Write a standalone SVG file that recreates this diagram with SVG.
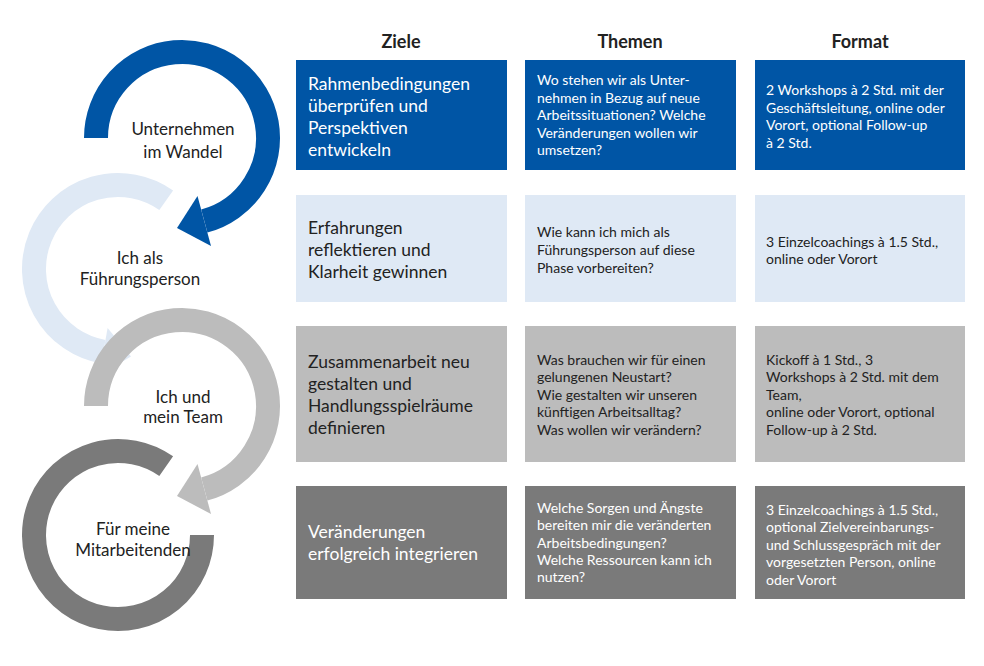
<svg xmlns="http://www.w3.org/2000/svg" width="984" height="666" viewBox="0 0 984 666">
<style>
text{font-family:Lato,"Open Sans","Liberation Sans",sans-serif;fill:#222}
.h{font-size:18px;font-weight:bold;text-anchor:middle}
.l{font-size:17px;text-anchor:middle}
.g{font-size:17.5px}
.s{font-size:14px}
.w{fill:#fff}
.arc{fill:none;stroke-width:24}
</style>
<rect width="984" height="666" fill="#fff"/>
<g id="connectors">
<path class="arc" stroke="#0055a5" d="M96,138 A86,86 0 1 1 204.3,221"/>
<polygon fill="#0055a5" points="197.5,196 211,246 177,228"/>
<path class="arc" stroke="#dfe9f5" d="M166.2,200.2 A84,84 0 1 0 103.4,351.7"/>
<polygon fill="#dfe9f5" points="107.6,328.1 99.2,375.4 131,356.6"/>
<path class="arc" stroke="#bcbcbc" d="M96,406 A86,86 0 1 1 204.3,489"/>
<polygon fill="#bcbcbc" points="197.5,464 211,514 177,496"/>
<path class="arc" stroke="#7a7a7a" d="M166.2,466.2 A84,84 0 1 0 202,535"/>
</g>
<g id="stage1"><text class="l" x="183" y="135">Unternehmen</text><text class="l" x="183" y="158">im Wandel</text></g>
<g id="stage2"><text class="l" x="140" y="264">Ich als</text><text class="l" x="140" y="285">Führungsperson</text></g>
<g id="stage3"><text class="l" x="183" y="403">Ich und</text><text class="l" x="183" y="423">mein Team</text></g>
<g id="stage4"><text class="l" x="133" y="535">Für meine</text><text class="l" x="133" y="556">Mitarbeitenden</text></g>
<g id="headers"><text class="h" x="401" y="48">Ziele</text><text class="h" x="630" y="48">Themen</text><text class="h" x="860" y="48">Format</text></g>
<g id="row1">
<rect x="296" y="60" width="211" height="110" fill="#0055a5"/>
<rect x="525" y="60" width="211" height="110" fill="#0055a5"/>
<rect x="755" y="60" width="210" height="110" fill="#0055a5"/>
<text class="g w" x="308"><tspan x="308" y="90">Rahmenbedingungen</tspan><tspan x="308" y="112">überprüfen und</tspan><tspan x="308" y="134">Perspektiven</tspan><tspan x="308" y="156">entwickeln</tspan></text>
<text class="s w"><tspan x="537" y="85">Wo stehen wir als Unter-</tspan><tspan x="537" y="103">nehmen in Bezug auf neue</tspan><tspan x="537" y="120">Arbeitssituationen? Welche</tspan><tspan x="537" y="138">Veränderungen wollen wir</tspan><tspan x="537" y="155">umsetzen?</tspan></text>
<text class="s w"><tspan x="766" y="95">2 Workshops à 2 Std. mit der</tspan><tspan x="766" y="113">Geschäftsleitung, online oder</tspan><tspan x="766" y="130">Vorort, optional Follow-up</tspan><tspan x="766" y="148">à 2 Std.</tspan></text>
</g>
<g id="row2">
<rect x="296" y="195" width="211" height="107" fill="#dfe9f5"/>
<rect x="525" y="195" width="211" height="107" fill="#dfe9f5"/>
<rect x="755" y="195" width="210" height="107" fill="#dfe9f5"/>
<text class="g"><tspan x="308" y="234">Erfahrungen</tspan><tspan x="308" y="256">reflektieren und</tspan><tspan x="308" y="278">Klarheit gewinnen</tspan></text>
<text class="s"><tspan x="537" y="237">Wie kann ich mich als</tspan><tspan x="537" y="255">Führungsperson auf diese</tspan><tspan x="537" y="273">Phase vorbereiten?</tspan></text>
<text class="s"><tspan x="766" y="247">3 Einzelcoachings à 1.5 Std.,</tspan><tspan x="766" y="264">online oder Vorort</tspan></text>
</g>
<g id="row3">
<rect x="296" y="326" width="211" height="136" fill="#bcbcbc"/>
<rect x="525" y="326" width="211" height="136" fill="#bcbcbc"/>
<rect x="755" y="326" width="210" height="136" fill="#bcbcbc"/>
<text class="g"><tspan x="308" y="368">Zusammenarbeit neu</tspan><tspan x="308" y="390">gestalten  und</tspan><tspan x="308" y="412">Handlungsspielräume</tspan><tspan x="308" y="434">definieren</tspan></text>
<text class="s"><tspan x="537" y="365">Was brauchen wir für einen</tspan><tspan x="537" y="382">gelungenen Neustart?</tspan><tspan x="537" y="400">Wie gestalten wir unseren</tspan><tspan x="537" y="417">künftigen Arbeitsalltag?</tspan><tspan x="537" y="435">Was wollen wir verändern?</tspan></text>
<text class="s"><tspan x="766" y="365">Kickoff à 1 Std., 3</tspan><tspan x="766" y="382">Workshops à 2 Std. mit dem</tspan><tspan x="766" y="400">Team,</tspan><tspan x="766" y="417">online oder Vorort, optional</tspan><tspan x="766" y="435">Follow-up à 2 Std.</tspan></text>
</g>
<g id="row4">
<rect x="296" y="486" width="211" height="113" fill="#7a7a7a"/>
<rect x="525" y="486" width="211" height="113" fill="#7a7a7a"/>
<rect x="755" y="486" width="210" height="113" fill="#7a7a7a"/>
<text class="g w"><tspan x="308" y="538">Veränderungen</tspan><tspan x="308" y="560">erfolgreich integrieren</tspan></text>
<text class="s w"><tspan x="537" y="513">Welche Sorgen und Ängste</tspan><tspan x="537" y="530">bereiten mir die veränderten</tspan><tspan x="537" y="548">Arbeitsbedingungen?</tspan><tspan x="537" y="565">Welche Ressourcen kann ich</tspan><tspan x="537" y="582">nutzen?</tspan></text>
<text class="s w"><tspan x="766" y="515">3 Einzelcoachings à 1.5 Std.,</tspan><tspan x="766" y="532">optional Zielvereinbarungs-</tspan><tspan x="766" y="550">und Schlussgespräch mit der</tspan><tspan x="766" y="567">vorgesetzten Person, online</tspan><tspan x="766" y="585">oder Vorort</tspan></text>
</g>
</svg>
